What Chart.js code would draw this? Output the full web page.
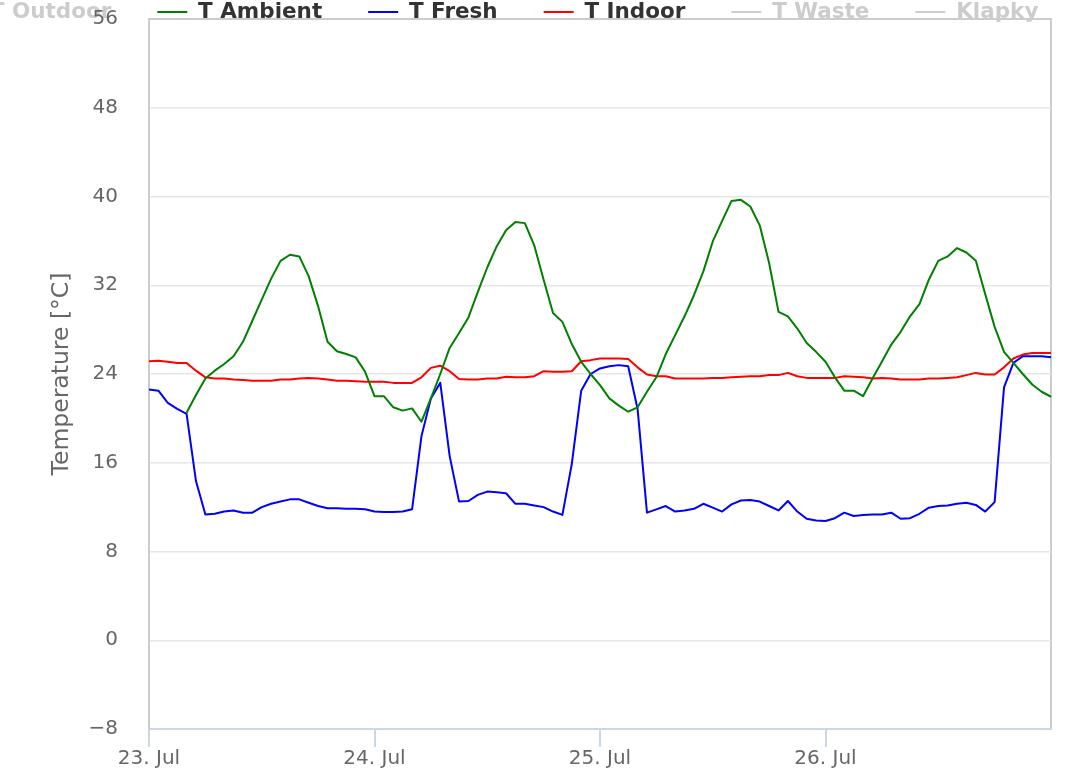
<!DOCTYPE html>
<html>
<head>
<meta charset="utf-8">
<title>Temperatures</title>
<script src="https://cdn.jsdelivr.net/npm/chart.js"></script>
<style>
  html, body { margin: 0; padding: 0; background: #fff; overflow: hidden; }
  #wrap { width: 1071px; height: 771px; }
</style>
</head>
<body>
<div id="wrap"><canvas id="temps" width="1071" height="771"></canvas></div>
<script>
// one reading per hour, 23. Jul 00:00 .. 27. Jul 00:00
var times = [
  '23.7. 00', '23.7. 01', '23.7. 02', '23.7. 03', '23.7. 04', '23.7. 05', '23.7. 06', '23.7. 07', '23.7. 08', '23.7. 09', '23.7. 10', '23.7. 11',
  '23.7. 12', '23.7. 13', '23.7. 14', '23.7. 15', '23.7. 16', '23.7. 17', '23.7. 18', '23.7. 19', '23.7. 20', '23.7. 21', '23.7. 22', '23.7. 23',
  '24.7. 00', '24.7. 01', '24.7. 02', '24.7. 03', '24.7. 04', '24.7. 05', '24.7. 06', '24.7. 07', '24.7. 08', '24.7. 09', '24.7. 10', '24.7. 11',
  '24.7. 12', '24.7. 13', '24.7. 14', '24.7. 15', '24.7. 16', '24.7. 17', '24.7. 18', '24.7. 19', '24.7. 20', '24.7. 21', '24.7. 22', '24.7. 23',
  '25.7. 00', '25.7. 01', '25.7. 02', '25.7. 03', '25.7. 04', '25.7. 05', '25.7. 06', '25.7. 07', '25.7. 08', '25.7. 09', '25.7. 10', '25.7. 11',
  '25.7. 12', '25.7. 13', '25.7. 14', '25.7. 15', '25.7. 16', '25.7. 17', '25.7. 18', '25.7. 19', '25.7. 20', '25.7. 21', '25.7. 22', '25.7. 23',
  '26.7. 00', '26.7. 01', '26.7. 02', '26.7. 03', '26.7. 04', '26.7. 05', '26.7. 06', '26.7. 07', '26.7. 08', '26.7. 09', '26.7. 10', '26.7. 11',
  '26.7. 12', '26.7. 13', '26.7. 14', '26.7. 15', '26.7. 16', '26.7. 17', '26.7. 18', '26.7. 19', '26.7. 20', '26.7. 21', '26.7. 22', '26.7. 23',
  '27.7. 00'
];
var dayTicks = ['23. Jul', '24. Jul', '25. Jul', '26. Jul'];

var tAmbient = [
  null, null, null, null, 20.5, 22.1, 23.6, 24.3, 24.9, 25.6, 26.9, 28.8,
  30.7, 32.6, 34.2, 34.75, 34.6, 32.8, 30.1, 26.9, 26.05, 25.8, 25.5, 24.2,
  22.0, 22.0, 21.0, 20.7, 20.9, 19.7, 21.8, 24.0, 26.35, 27.7, 29.1, 31.4,
  33.6, 35.5, 36.95, 37.7, 37.6, 35.6, 32.5, 29.5, 28.7, 26.7, 25.1, 24.0,
  23.0, 21.8, 21.15, 20.6, 21.0, 22.4, 23.7, 25.8, 27.5, 29.2, 31.1, 33.25,
  35.95, 37.8, 39.6, 39.7, 39.1, 37.4, 34.0, 29.6, 29.2, 28.1, 26.8, 26.0,
  25.1, 23.7, 22.5, 22.5, 22.0, 23.6, 25.1, 26.65, 27.8, 29.2, 30.3, 32.5,
  34.2, 34.6, 35.35, 34.95, 34.2, 31.2, 28.25, 26.0, 25.0, 24.0, 23.05, 22.4,
  21.95
];
var tFresh = [
  22.6, 22.5, 21.4, 20.85, 20.4, 14.35, 11.33, 11.4, 11.6, 11.7, 11.5, 11.5,
  12.0, 12.3, 12.5, 12.7, 12.7, 12.4, 12.1, 11.9, 11.9, 11.85, 11.85, 11.8,
  11.6, 11.55, 11.55, 11.6, 11.8, 18.4, 21.8, 23.2, 16.6, 12.5, 12.55, 13.1,
  13.4, 13.35, 13.25, 12.3, 12.3, 12.15, 12.0, 11.6, 11.3, 15.9, 22.5, 24.0,
  24.5, 24.7, 24.8, 24.7, 20.85, 11.5, 11.8, 12.1, 11.6, 11.7, 11.85, 12.3,
  11.95, 11.6, 12.25, 12.6, 12.65, 12.5, 12.1, 11.7, 12.55, 11.6, 10.95, 10.8,
  10.75, 11.0, 11.5, 11.2, 11.3, 11.33, 11.33, 11.5, 10.95, 11.0, 11.4, 11.95,
  12.1, 12.15, 12.3, 12.4, 12.2, 11.6, 12.45, 22.8, 25.0, 25.6, 25.6, 25.6,
  25.5
];
var tIndoor = [
  25.15, 25.2, 25.1, 25.0, 25.0, 24.3, 23.7, 23.6, 23.6, 23.5, 23.45, 23.4,
  23.4, 23.4, 23.5, 23.5, 23.6, 23.65, 23.6, 23.5, 23.4, 23.4, 23.35, 23.3,
  23.3, 23.3, 23.2, 23.2, 23.2, 23.7, 24.55, 24.75, 24.25, 23.55, 23.5, 23.5,
  23.6, 23.6, 23.75, 23.7, 23.7, 23.8, 24.25, 24.2, 24.2, 24.25, 25.15, 25.25,
  25.4, 25.4, 25.4, 25.35, 24.6, 23.95, 23.8, 23.8, 23.6, 23.6, 23.6, 23.6,
  23.65, 23.65, 23.7, 23.75, 23.8, 23.8, 23.9, 23.9, 24.1, 23.8, 23.65, 23.65,
  23.65, 23.65, 23.8, 23.75, 23.7, 23.6, 23.65, 23.6, 23.5, 23.5, 23.5, 23.6,
  23.6, 23.65, 23.7, 23.9, 24.1, 23.95, 23.95, 24.6, 25.4, 25.75, 25.9, 25.9,
  25.9
];
// switched off in the legend, nothing drawn
var tOutdoor = [];
var tWaste = [];
var klapky = [];

Chart.defaults.font.family = 'DejaVu Sans';

// legend sits half above the canvas and runs wider than it, like the original
var legendShift = {
  id: 'legendShift',
  beforeInit: function (chart) {
    var legend = chart.legend;
    var fit = legend.fit;
    legend.fit = function () {
      this.maxWidth = 1400;
      fit.call(this);
      this.height = 19;
    };
    var draw = legend.draw;
    legend.draw = function () {
      var box = [this.left, this.right, this.top, this.bottom];
      this.left = -97; this.right = 1400; this.top = -44.75; this.bottom = 30;
      draw.call(this);
      this.left = box[0]; this.right = box[1]; this.top = box[2]; this.bottom = box[3];
    };
  }
};

// grey plot border (top and right), drawn first so the legend text stays on top
var plotFrame = {
  id: 'plotFrame',
  beforeDraw: function (chart) {
    var ctx = chart.ctx, a = chart.chartArea;
    ctx.save();
    ctx.strokeStyle = '#cccccc';
    ctx.lineWidth = 2;
    ctx.beginPath();
    ctx.moveTo(a.left, a.top);
    ctx.lineTo(a.right, a.top);
    ctx.lineTo(a.right, a.bottom);
    ctx.stroke();
    ctx.restore();
  }
};

function line(label, data, color, hidden) {
  return {
    label: label,
    data: data,
    borderColor: color,
    backgroundColor: color,
    borderWidth: 2,
    pointRadius: 0,
    tension: 0,
    borderJoinStyle: 'round',
    fill: false,
    hidden: hidden
  };
}

var ctx = document.getElementById('temps');
var myChart = new Chart(ctx, {
  type: 'line',
  data: {
    labels: times,
    datasets: [
      line('T Outdoor', tOutdoor, '#ff8c00', true),
      line('T Ambient', tAmbient, '#008000', false),
      line('T Fresh', tFresh, '#0000ff', false),
      line('T Indoor', tIndoor, '#ff0000', false),
      line('T Waste', tWaste, '#800080', true),
      line('Klapky', klapky, '#000000', true)
    ]
  },
  plugins: [legendShift, plotFrame],
  options: {
    responsive: false,
    animation: false,
    devicePixelRatio: 1,
    layout: { padding: { left: 0, right: 20, top: 0, bottom: 0 } },
    plugins: {
      tooltip: { enabled: false },
      legend: {
        align: 'start',
        labels: {
          boxWidth: 30,
          boxHeight: 2,
          padding: 46,
          font: { size: 21.5, weight: 'bold' },
          generateLabels: function (chart) {
            return chart.data.datasets.map(function (ds, i) {
              var off = ds.hidden;
              return {
                text: ds.label,
                fillStyle: off ? '#cccccc' : ds.borderColor,
                strokeStyle: 'rgba(0,0,0,0)',
                lineWidth: 0,
                fontColor: off ? '#cccccc' : '#333333',
                hidden: false,
                datasetIndex: i
              };
            });
          }
        }
      }
    },
    scales: {
      x: {
        offset: false,
        grid: { drawOnChartArea: false, drawTicks: true, tickLength: 18, color: '#ccd6eb', lineWidth: 2 },
        border: { display: true, color: '#ccd6eb', width: 2 },
        ticks: {
          autoSkip: false,
          maxRotation: 0,
          padding: 0,
          color: '#666666',
          font: { size: 20 },
          callback: function (v, i) {
            return i % 24 === 0 ? dayTicks[i / 24] : null;
          }
        },
        afterFit: function (scale) { scale.height = 42; }
      },
      y: {
        min: -8,
        max: 56,
        grid: {
          color: function (c) { return c.tick && c.tick.value === 56 ? 'rgba(0,0,0,0)' : '#e6e6e6'; },
          lineWidth: 1.5,
          drawTicks: true,
          tickLength: 28,
          tickColor: 'rgba(0,0,0,0)'
        },
        border: { display: true, color: '#cccccc', width: 2 },
        ticks: {
          stepSize: 8,
          padding: 3,
          color: '#666666',
          font: { size: 20 },
          callback: function (v) { return v < 0 ? '\u2212' + (-v) : '' + v; }
        },
        title: {
          display: true,
          text: 'Temperature [°C]',
          color: '#666666',
          font: { size: 23.5 },
          padding: { top: 48, bottom: 0 }
        },
        afterFit: function (scale) { scale.width = 149; }
      }
    }
  }
});
</script>
</body>
</html>
